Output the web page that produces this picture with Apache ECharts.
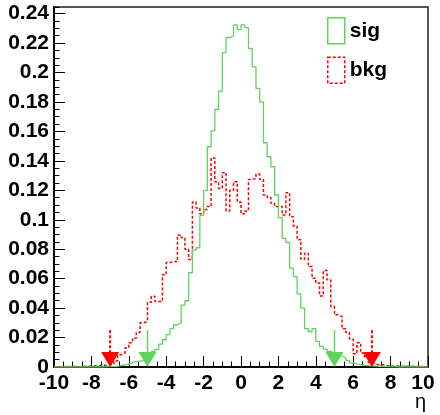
<!DOCTYPE html>
<html>
<head>
<meta charset="utf-8">
<script src="https://cdn.jsdelivr.net/npm/echarts@6/dist/echarts.min.js"></script>
<style>html,body{margin:0;padding:0;background:#fff}#c{width:440px;height:415px}</style>
</head>
<body>
<div id="c"></div>
<script>
// histogram binning
const xMin = -10, xMax = 10, binWidth = 0.2;
// signal (sig) bin contents, 100 bins from -10 to 10
const sig = [
  0,0,0,0,0,0,0,0,0,0,
  0,0,0,0.0001,0.0002,0.0003,0.0005,0.001,0.0015,0.002,
  0.003,0.0038,0.004,0.0045,0.005,0.009,0.0106,0.012,0.0155,0.0185,
  0.022,0.026,0.0287,0.0298,0.042,0.045,0.064,0.0795,0.081,0.103,
  0.120,0.1496,0.1604,0.1749,0.1873,0.2135,0.2237,0.2248,0.2323,0.2292,
  0.2323,0.2305,0.2163,0.2038,0.1892,0.180,0.1523,0.1428,0.136,0.1168,
  0.1014,0.0874,0.0847,0.0671,0.0614,0.0497,0.040,0.026,0.0241,0.026,
  0.0174,0.014,0.0122,0.0106,0.0095,0.009,0.0075,0.0062,0.0045,0.0028,
  0.002,0.0017,0.0012,0.001,0.0008,0.0006,0.0005,0.0003,0.0002,0.0001,
  0.0001,0,0,0,0,0,0,0,0,0
];
// background (bkg) bin contents
const bkg = [
  0.0002,0.0001,0.0003,0.0002,0.0004,0.0003,0.0002,0.0005,0.0004,0.0006,
  0.0008,0.0007,0.0012,0.001,0.0015,0.002,0.004,0.0083,0.0095,0.013,
  0.0165,0.0195,0.0235,0.030,0.031,0.044,0.048,0.0445,0.0445,0.0626,
  0.0709,0.0716,0.0716,0.0897,0.088,0.080,0.073,0.112,0.108,0.104,
  0.107,0.109,0.142,0.1258,0.1213,0.132,0.106,0.120,0.1258,0.112,
  0.104,0.106,0.1274,0.128,0.131,0.1274,0.1168,0.1152,0.111,0.109,
  0.109,0.1033,0.1184,0.1021,0.0958,0.0865,0.0732,0.0773,0.0682,0.0603,
  0.057,0.0483,0.0655,0.0592,0.0411,0.0355,0.0343,0.026,0.0235,0.019,
  0.009,0.0165,0.0095,0.007,0.003,0.002,0.0015,0.0016,0.001,0.0008,
  0.0005,0.0006,0.0004,0.0007,0.0003,0.0005,0.0004,0.0003,0.0002,0.0002
];
// cut arrows
const cutSig = [-5, 5];
const cutBkg = [-7, 7];
const arrowLen = 0.025;
// axis
const yMax = 0.2445;
const yMajor = 0.02, yMinor = 0.005;
const xMajor = 2;
const seriesNames = ['sig', 'bkg'];
const xTitle = 'η';

const GREEN = '#5fd35f', RED = '#ff0000';
const FONT = "'Liberation Sans', Arial, Helvetica, sans-serif";

function stepData(vals) {
  const pts = vals.map((v, i) => [xMin + i * binWidth, v]);
  pts.push([xMax, vals[vals.length - 1]]);
  return pts;
}

function arrowRenderer(color, dashed) {
  return function (params, api) {
    const x = api.value(0), top = api.value(1);
    const p0 = api.coord([x, 0]);
    const p1 = api.coord([x, top]);
    const h = 15, w = 9;
    return {
      type: 'group',
      children: [
        { type: 'line', shape: { x1: p0[0], y1: p1[1], x2: p0[0], y2: p0[1] - h + 1 },
          style: { stroke: color, lineWidth: dashed ? 2 : 1.5, lineDash: dashed ? [3, 2] : null } },
        { type: 'polygon', shape: { points: [[p0[0] - w, p0[1] - h], [p0[0] + w, p0[1] - h], [p0[0], p0[1]]] },
          style: { fill: color } }
      ]
    };
  };
}

const chart = echarts.init(document.getElementById('c'), null, { renderer: 'canvas' });
chart.setOption({
  animation: false,
  backgroundColor: '#fff',
  textStyle: { fontFamily: FONT },
  grid: { left: 54, right: 12, top: 7, bottom: 48, show: true, borderColor: '#222', borderWidth: 1.5,
          backgroundColor: 'transparent', containLabel: false, outerBoundsMode: 'none' },
  legend: {
    left: 327, top: 17, padding: 0, orient: 'vertical', itemWidth: 17, itemHeight: 26, itemGap: 12,
    textStyle: { fontSize: 21, fontWeight: 'bold', fontFamily: FONT, color: '#000' },
    data: [
      { name: seriesNames[0], icon: 'rect', itemStyle: { color: 'rgba(0,0,0,0)', borderColor: GREEN, borderWidth: 1.5 } },
      { name: seriesNames[1], icon: 'rect', itemStyle: { color: 'rgba(0,0,0,0)', borderColor: RED, borderWidth: 1.5, borderType: [3, 2] } }
    ]
  },
  graphic: [
    { type: 'text', right: 14, bottom: 3, style: { text: xTitle, fontSize: 20, fontFamily: FONT, fill: '#000' } }
  ],
  xAxis: {
    type: 'value', min: xMin, max: xMax, interval: xMajor,
    axisLine: { show: true, onZero: false, lineStyle: { color: '#000', width: 2 } },
    axisTick: { show: true, inside: true, length: 11, lineStyle: { color: '#000', width: 1 } },
    minorTick: { show: true, splitNumber: 4, length: 5.5, lineStyle: { color: '#000', width: 1 } },
    splitLine: { show: false },
    axisLabel: {
      margin: 6, fontSize: 21, fontWeight: 'bold', fontFamily: FONT, color: '#000',
      formatter: v => (v === xMax ? '{e|' + v + '}' : String(v)),
      rich: { e: { fontSize: 21, fontWeight: 'bold', fontFamily: FONT, color: '#000', padding: [0, 10, 0, 0] } }
    }
  },
  yAxis: [
    {
      type: 'value', min: 0, max: yMax, interval: yMajor,
      axisLine: { show: true, onZero: false, lineStyle: { color: '#000', width: 2 } },
      axisTick: { show: true, inside: true, length: 11, lineStyle: { color: '#000', width: 1 } },
      splitLine: { show: false },
      axisLabel: { margin: 5, fontSize: 21, fontWeight: 'bold', fontFamily: FONT, color: '#000', showMaxLabel: false }
    },
    {
      type: 'value', min: 0, max: yMax, interval: yMinor, position: 'left', offset: 0,
      axisLine: { show: false, onZero: false },
      axisTick: { show: true, inside: true, length: 5.5, lineStyle: { color: '#000', width: 1 } },
      axisLabel: { show: false },
      splitLine: { show: false }
    }
  ],
  series: [
    {
      name: seriesNames[0], type: 'line', step: 'end', symbol: 'none', data: stepData(sig),
      color: GREEN, lineStyle: { color: GREEN, width: 1.3 }, z: 3
    },
    {
      name: seriesNames[1], type: 'line', step: 'end', symbol: 'none', data: stepData(bkg),
      color: RED, lineStyle: { color: RED, width: 1.5, type: [3, 2] }, z: 2
    },
    {
      type: 'custom', name: 'sigCut', renderItem: arrowRenderer(GREEN, false), clip: false,
      data: cutSig.map(x => [x, arrowLen]), z: 5, silent: true
    },
    {
      type: 'custom', name: 'bkgCut', renderItem: arrowRenderer(RED, true), clip: false,
      data: cutBkg.map(x => [x, arrowLen]), z: 5, silent: true
    }
  ]
});
</script>
</body>
</html>
